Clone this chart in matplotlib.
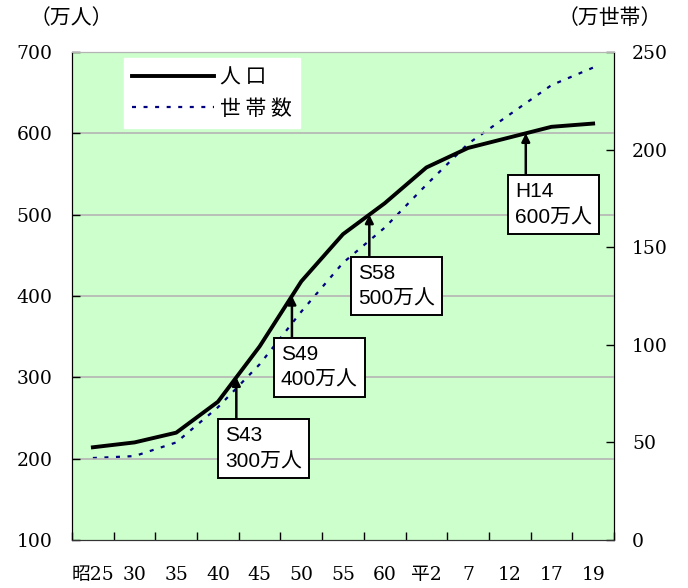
import matplotlib
matplotlib.use("Agg")
import matplotlib.pyplot as plt
import numpy as np

serif_jp = ["DejaVu Serif", "Noto Sans CJK JP"]
sans_jp = ["Liberation Sans", "Noto Sans CJK JP"]
plt.rcParams["font.family"] = serif_jp

# 年次（昭和・平成）
years = ["昭25", "30", "35", "40", "45", "50", "55", "60", "平2", "7", "12", "17", "19"]
# 人口（万人）
population = [214, 220, 232, 270, 338, 418, 476, 514, 558, 582, 595, 608, 612]
# 世帯数（万世帯）
households = [42, 43, 50, 68, 90, 117, 142, 160, 182, 203, 218, 233, 242]

# 到達時期の注記
milestones = [300, 400, 500, 600]
milestone_labels = ["S43\n300万人", "S49\n400万人", "S58\n500万人", "H14\n600万人"]

x = np.arange(len(years))
green = "#ccffcc"
grid_gray = "#b4b4b4"
dots = (0, (1.8, 3.4))

fig = plt.figure(figsize=(6.88, 5.88), dpi=100)
ax2 = fig.add_axes([0.1047, 0.0816, 0.7877, 0.83])
ax = ax2.twinx()
# 左軸を人口、右軸を世帯数にする
ax.yaxis.tick_left()
ax2.yaxis.tick_right()

ax2.set_facecolor(green)
ax.patch.set_visible(False)
ax.set_xlim(-0.5, len(years) - 0.5)
ax2.set_xlim(-0.5, len(years) - 0.5)
ax.set_ylim(100, 700)
ax2.set_ylim(0, 250)

for g in range(200, 700, 100):
    ax.axhline(g, color=grid_gray, lw=1.2, zorder=1)

ax2.plot(x, households, color="#000080", lw=1.6, ls=dots, zorder=3)
ax.plot(x, population, color="black", lw=2.8, zorder=4)

# 区切り目盛り
for a in (ax, ax2):
    a.set_xticks(np.arange(len(years) + 1) - 0.5)
    a.set_xticklabels([])
    a.tick_params(axis="x", which="major", direction="in", length=6, width=1)
ax2.set_xticks(x, minor=True)
ax2.set_xticklabels(years, minor=True, fontsize=13.5)
ax2.tick_params(axis="x", which="minor", length=0, pad=19)

ax.set_yticks(range(100, 701, 100))
ax.tick_params(axis="y", direction="in", length=6, width=1, labelsize=13.5, pad=14,
               left=True, right=False, labelleft=True, labelright=False)
ax2.set_yticks(range(0, 251, 50))
ax2.tick_params(axis="y", direction="in", length=6, width=1, labelsize=13.5, pad=13,
                left=False, right=True, labelleft=False, labelright=True)

for a in (ax, ax2):
    a.spines["top"].set_color(grid_gray)
    a.spines["left"].set_color("black")
    a.spines["right"].set_color("black")
    a.spines["bottom"].set_color("#333333")

fig.text(30 / 688, 1 - 18 / 588, "（万人）", fontsize=15, ha="left", va="center",
         family=["Noto Sans CJK JP"])
fig.text(662 / 688, 1 - 18 / 588, "（万世帯）", fontsize=15, ha="right", va="center",
         family=["Noto Sans CJK JP"])

# 凡例
leg = ax.legend(handles=[
    plt.Line2D([], [], color="black", lw=2.8),
    plt.Line2D([], [], color="#000080", lw=1.6, ls=dots)],
    labels=["人 口", "世 帯 数"], loc="upper left", bbox_to_anchor=(0.096, 0.988),
    frameon=True, fancybox=False, framealpha=1, edgecolor="white",
    handlelength=3.9, handletextpad=0.3, borderpad=0.4, borderaxespad=0,
    labelspacing=0.45, prop={"family": ["Noto Sans CJK JP"], "size": 15})
leg.set_zorder(10)

# 人口到達の矢印と注記
for level, label in zip(milestones, milestone_labels):
    xm = np.interp(level, population, x)
    ax.annotate("", xy=(xm, level), xytext=(0, -41), textcoords="offset pixels",
                arrowprops=dict(arrowstyle="-|>", color="black", lw=1.8,
                                mutation_scale=12, shrinkA=0, shrinkB=0), zorder=6)
    ax.annotate(label, xy=(xm, level), xytext=(-11, -49), textcoords="offset pixels",
                ha="left", va="top", fontsize=15, family=sans_jp,
                linespacing=1.45, zorder=7,
                bbox=dict(boxstyle="square,pad=0.33", fc="white", ec="black", lw=1.4))

fig.savefig("out.png", dpi=100)
